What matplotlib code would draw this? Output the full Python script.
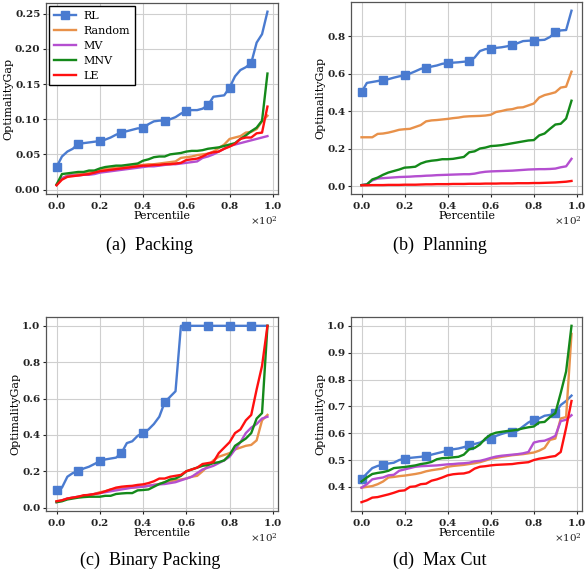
import matplotlib
matplotlib.use('Agg')
import matplotlib.pyplot as plt
import numpy as np
from matplotlib import ticker

plt.rcParams['font.family'] = ['DejaVu Serif']
plt.rcParams['mathtext.fontset'] = 'dejavuserif'

# percentile grid (x100)
pct = np.arange(0, 100, 2.5)

methods = ['RL', 'Random', 'MV', 'MNV', 'LE']
colors = ['#4a7bd0', '#e8914a', '#b44fd0', '#14891a', '#ff1010']
captions = ['(a)  Packing', '(b)  Planning', '(c)  Binary Packing', '(d)  Max Cut']

# (a) Packing
pack_rl = [0.032, 0.047, 0.054, 0.058, 0.065, 0.066, 0.067, 0.068, 0.069, 0.071,
           0.074, 0.078, 0.081, 0.083, 0.085, 0.087, 0.087, 0.093, 0.097, 0.098,
           0.098, 0.100, 0.103, 0.108, 0.112, 0.113, 0.113, 0.115, 0.120, 0.132,
           0.133, 0.134, 0.145, 0.161, 0.170, 0.174, 0.180, 0.209, 0.221, 0.253]
pack_random = [0.007, 0.016, 0.020, 0.021, 0.022, 0.023, 0.024, 0.026, 0.028, 0.029,
               0.030, 0.031, 0.032, 0.033, 0.034, 0.035, 0.035, 0.036, 0.036, 0.037,
               0.038, 0.039, 0.040, 0.045, 0.046, 0.047, 0.049, 0.050, 0.051, 0.054,
               0.059, 0.064, 0.072, 0.074, 0.076, 0.081, 0.082, 0.086, 0.097, 0.105]
pack_mv = [0.007, 0.016, 0.019, 0.020, 0.020, 0.021, 0.021, 0.022, 0.024, 0.025,
           0.026, 0.027, 0.028, 0.029, 0.030, 0.031, 0.032, 0.033, 0.033, 0.034,
           0.035, 0.036, 0.036, 0.037, 0.038, 0.039, 0.040, 0.045, 0.047, 0.050,
           0.054, 0.058, 0.062, 0.064, 0.066, 0.068, 0.070, 0.072, 0.074, 0.076]
pack_mnv = [0.007, 0.022, 0.023, 0.024, 0.025, 0.025, 0.027, 0.027, 0.030, 0.032,
            0.033, 0.034, 0.034, 0.035, 0.036, 0.037, 0.041, 0.043, 0.046, 0.047,
            0.047, 0.050, 0.051, 0.052, 0.054, 0.055, 0.055, 0.056, 0.058, 0.059,
            0.060, 0.062, 0.064, 0.066, 0.072, 0.077, 0.083, 0.088, 0.098, 0.165]
pack_le = [0.006, 0.014, 0.018, 0.019, 0.020, 0.021, 0.022, 0.024, 0.026, 0.027,
           0.028, 0.029, 0.030, 0.031, 0.032, 0.033, 0.034, 0.034, 0.035, 0.035,
           0.036, 0.036, 0.037, 0.038, 0.042, 0.043, 0.044, 0.047, 0.051, 0.053,
           0.054, 0.058, 0.061, 0.065, 0.072, 0.074, 0.074, 0.080, 0.081, 0.118]

# (b) Planning
plan_rl = [0.500, 0.550, 0.555, 0.560, 0.567, 0.570, 0.578, 0.585, 0.590, 0.600,
           0.612, 0.625, 0.632, 0.637, 0.643, 0.652, 0.655, 0.658, 0.660, 0.663,
           0.665, 0.685, 0.720, 0.730, 0.733, 0.737, 0.740, 0.745, 0.752, 0.762,
           0.773, 0.775, 0.776, 0.778, 0.780, 0.795, 0.820, 0.830, 0.832, 0.935]
plan_random = [0.260, 0.260, 0.260, 0.278, 0.280, 0.285, 0.292, 0.300, 0.303, 0.305,
               0.315, 0.325, 0.345, 0.350, 0.352, 0.355, 0.358, 0.362, 0.365, 0.370,
               0.372, 0.373, 0.374, 0.376, 0.380, 0.395, 0.400, 0.407, 0.410, 0.418,
               0.420, 0.430, 0.440, 0.472, 0.485, 0.492, 0.500, 0.525, 0.530, 0.610]
plan_mv = [0.005, 0.010, 0.030, 0.040, 0.042, 0.044, 0.046, 0.048, 0.049, 0.050,
           0.052, 0.053, 0.055, 0.056, 0.058, 0.059, 0.060, 0.061, 0.062, 0.063,
           0.063, 0.066, 0.072, 0.076, 0.078, 0.079, 0.080, 0.081, 0.082, 0.084,
           0.086, 0.088, 0.089, 0.090, 0.090, 0.091, 0.093, 0.100, 0.105, 0.145]
plan_mnv = [0.005, 0.008, 0.035, 0.045, 0.060, 0.072, 0.080, 0.088, 0.098, 0.100,
            0.103, 0.120, 0.130, 0.135, 0.138, 0.143, 0.143, 0.145, 0.150, 0.155,
            0.180, 0.185, 0.200, 0.205, 0.213, 0.215, 0.218, 0.223, 0.228, 0.233,
            0.238, 0.243, 0.245, 0.270, 0.280, 0.305, 0.328, 0.332, 0.360, 0.455]
plan_le = [0.004, 0.004, 0.005, 0.005, 0.005, 0.006, 0.006, 0.006, 0.007, 0.007,
           0.007, 0.008, 0.009, 0.009, 0.010, 0.010, 0.010, 0.011, 0.011, 0.011,
           0.012, 0.012, 0.012, 0.013, 0.013, 0.013, 0.014, 0.014, 0.014, 0.015,
           0.015, 0.015, 0.016, 0.016, 0.017, 0.018, 0.019, 0.021, 0.023, 0.027]

# (c) Binary Packing
bin_rl = [0.095, 0.110, 0.170, 0.190, 0.200, 0.215, 0.225, 0.240, 0.255, 0.265,
          0.270, 0.275, 0.300, 0.355, 0.365, 0.395, 0.410, 0.430, 0.460, 0.500,
          0.580, 0.610, 0.640, 1.000, 1.000, 1.000, 1.000, 1.000, 1.000, 1.000,
          1.000, 1.000, 1.000, 1.000, 1.000, 1.000, 1.000, 1.000, 1.000, 1.000]
bin_random = [0.035, 0.040, 0.050, 0.055, 0.060, 0.065, 0.070, 0.075, 0.085, 0.090,
              0.100, 0.103, 0.105, 0.108, 0.110, 0.113, 0.115, 0.120, 0.125, 0.130,
              0.140, 0.145, 0.150, 0.155, 0.160, 0.170, 0.175, 0.200, 0.230, 0.260,
              0.280, 0.290, 0.300, 0.320, 0.330, 0.340, 0.345, 0.370, 0.480, 0.510]
bin_mv = [0.030, 0.040, 0.050, 0.055, 0.060, 0.065, 0.070, 0.075, 0.080, 0.085,
          0.090, 0.095, 0.100, 0.105, 0.110, 0.113, 0.115, 0.120, 0.125, 0.128,
          0.130, 0.135, 0.140, 0.150, 0.160, 0.170, 0.190, 0.210, 0.220, 0.230,
          0.245, 0.260, 0.280, 0.320, 0.360, 0.410, 0.440, 0.460, 0.490, 0.500]
bin_mnv = [0.030, 0.035, 0.045, 0.050, 0.055, 0.058, 0.060, 0.060, 0.060, 0.065,
           0.065, 0.075, 0.078, 0.080, 0.080, 0.095, 0.097, 0.100, 0.115, 0.130,
           0.140, 0.155, 0.160, 0.175, 0.200, 0.210, 0.220, 0.230, 0.235, 0.245,
           0.250, 0.260, 0.290, 0.340, 0.360, 0.380, 0.410, 0.490, 0.520, 1.000]
bin_le = [0.035, 0.040, 0.050, 0.055, 0.060, 0.068, 0.070, 0.075, 0.080, 0.090,
          0.100, 0.110, 0.115, 0.118, 0.120, 0.125, 0.128, 0.135, 0.145, 0.160,
          0.160, 0.170, 0.175, 0.180, 0.200, 0.210, 0.220, 0.240, 0.245, 0.250,
          0.300, 0.330, 0.360, 0.410, 0.430, 0.480, 0.510, 0.650, 0.780, 1.000]

# (d) Max Cut
cut_rl = [0.428, 0.450, 0.470, 0.478, 0.483, 0.487, 0.490, 0.500, 0.505, 0.508,
          0.510, 0.512, 0.515, 0.520, 0.525, 0.530, 0.534, 0.540, 0.543, 0.548,
          0.555, 0.560, 0.565, 0.575, 0.580, 0.590, 0.597, 0.603, 0.606, 0.610,
          0.625, 0.640, 0.650, 0.655, 0.665, 0.668, 0.675, 0.705, 0.720, 0.740]
cut_random = [0.397, 0.400, 0.403, 0.410, 0.420, 0.435, 0.437, 0.440, 0.442, 0.445,
              0.448, 0.452, 0.458, 0.462, 0.465, 0.468, 0.475, 0.478, 0.480, 0.482,
              0.485, 0.488, 0.492, 0.498, 0.505, 0.508, 0.512, 0.515, 0.518, 0.520,
              0.522, 0.525, 0.528, 0.535, 0.545, 0.575, 0.580, 0.655, 0.660, 0.970]
cut_mv = [0.397, 0.410, 0.428, 0.432, 0.435, 0.443, 0.445, 0.460, 0.465, 0.470,
          0.475, 0.477, 0.478, 0.479, 0.480, 0.482, 0.484, 0.485, 0.487, 0.488,
          0.490, 0.495, 0.497, 0.502, 0.508, 0.513, 0.516, 0.518, 0.520, 0.522,
          0.525, 0.530, 0.565, 0.570, 0.572, 0.580, 0.590, 0.645, 0.650, 0.667]
cut_mnv = [0.420, 0.435, 0.448, 0.452, 0.455, 0.460, 0.470, 0.472, 0.474, 0.477,
           0.480, 0.485, 0.488, 0.493, 0.503, 0.507, 0.508, 0.510, 0.512, 0.520,
           0.540, 0.545, 0.558, 0.580, 0.595, 0.602, 0.605, 0.608, 0.610, 0.613,
           0.618, 0.622, 0.625, 0.640, 0.642, 0.660, 0.675, 0.750, 0.830, 1.000]
cut_le = [0.343, 0.350, 0.360, 0.362, 0.367, 0.372, 0.378, 0.385, 0.387, 0.400,
          0.402, 0.410, 0.412, 0.423, 0.428, 0.435, 0.443, 0.447, 0.449, 0.450,
          0.455, 0.468, 0.475, 0.477, 0.480, 0.482, 0.483, 0.484, 0.485, 0.488,
          0.490, 0.492, 0.500, 0.505, 0.508, 0.512, 0.515, 0.530, 0.620, 0.720]

panels = [
    [pack_rl, pack_random, pack_mv, pack_mnv, pack_le],
    [plan_rl, plan_random, plan_mv, plan_mnv, plan_le],
    [bin_rl, bin_random, bin_mv, bin_mnv, bin_le],
    [cut_rl, cut_random, cut_mv, cut_mnv, cut_le],
]

W, H = 585, 579
fig = plt.figure(figsize=(W / 100, H / 100), dpi=100)

# axes boxes in pixels: left, top, right, bottom
boxes = [(46, 3, 278, 194), (351, 2, 582, 194), (46, 317, 278, 511), (351, 317, 582, 511)]
cap_pos = [(149, 245), (440, 245), (150, 560), (440, 560)]

for i, series in enumerate(panels):
    l, t, r, b = boxes[i]
    ax = fig.add_axes([l / W, 1 - b / H, (r - l) / W, (b - t) / H])
    for name, vals, c in zip(methods, series, colors):
        if name == 'RL':
            ax.plot(pct, vals, color=c, lw=1.7, marker='s', ms=5.5,
                    markevery=slice(0, 37, 4), label=name)
        else:
            ax.plot(pct, vals, color=c, lw=1.7, label=name)
    ax.grid(True, color='#cfcfcf', lw=0.8)
    ax.set_axisbelow(True)
    for s in ax.spines.values():
        s.set_color('#555555')
        s.set_linewidth(0.9)
    fmt = ticker.ScalarFormatter(useMathText=True)
    fmt.set_powerlimits((-1, 1))
    ax.xaxis.set_major_formatter(fmt)
    ax.xaxis.get_offset_text().set_fontsize(7.5)
    ax.tick_params(labelsize=7.5, length=2.5, width=0.8, pad=1.5, colors='#222222')
    for lab in ax.get_xticklabels() + ax.get_yticklabels():
        lab.set_fontweight('bold')
    ax.set_xlabel('Percentile', fontsize=8, labelpad=0)
    ax.set_ylabel('OptimalityGap', fontsize=8, labelpad=1)
    if i == 0:
        ax.legend(loc='upper left', fontsize=8, fancybox=False, edgecolor='black',
                  framealpha=1, borderaxespad=0.3, handlelength=2.0,
                  handletextpad=0.7, labelspacing=0.45)
    cx, cy = cap_pos[i]
    fig.text(cx / W, 1 - cy / H, captions[i], ha='center', va='center',
             fontsize=13, family='Liberation Serif')

fig.savefig('out.png', dpi=100)
